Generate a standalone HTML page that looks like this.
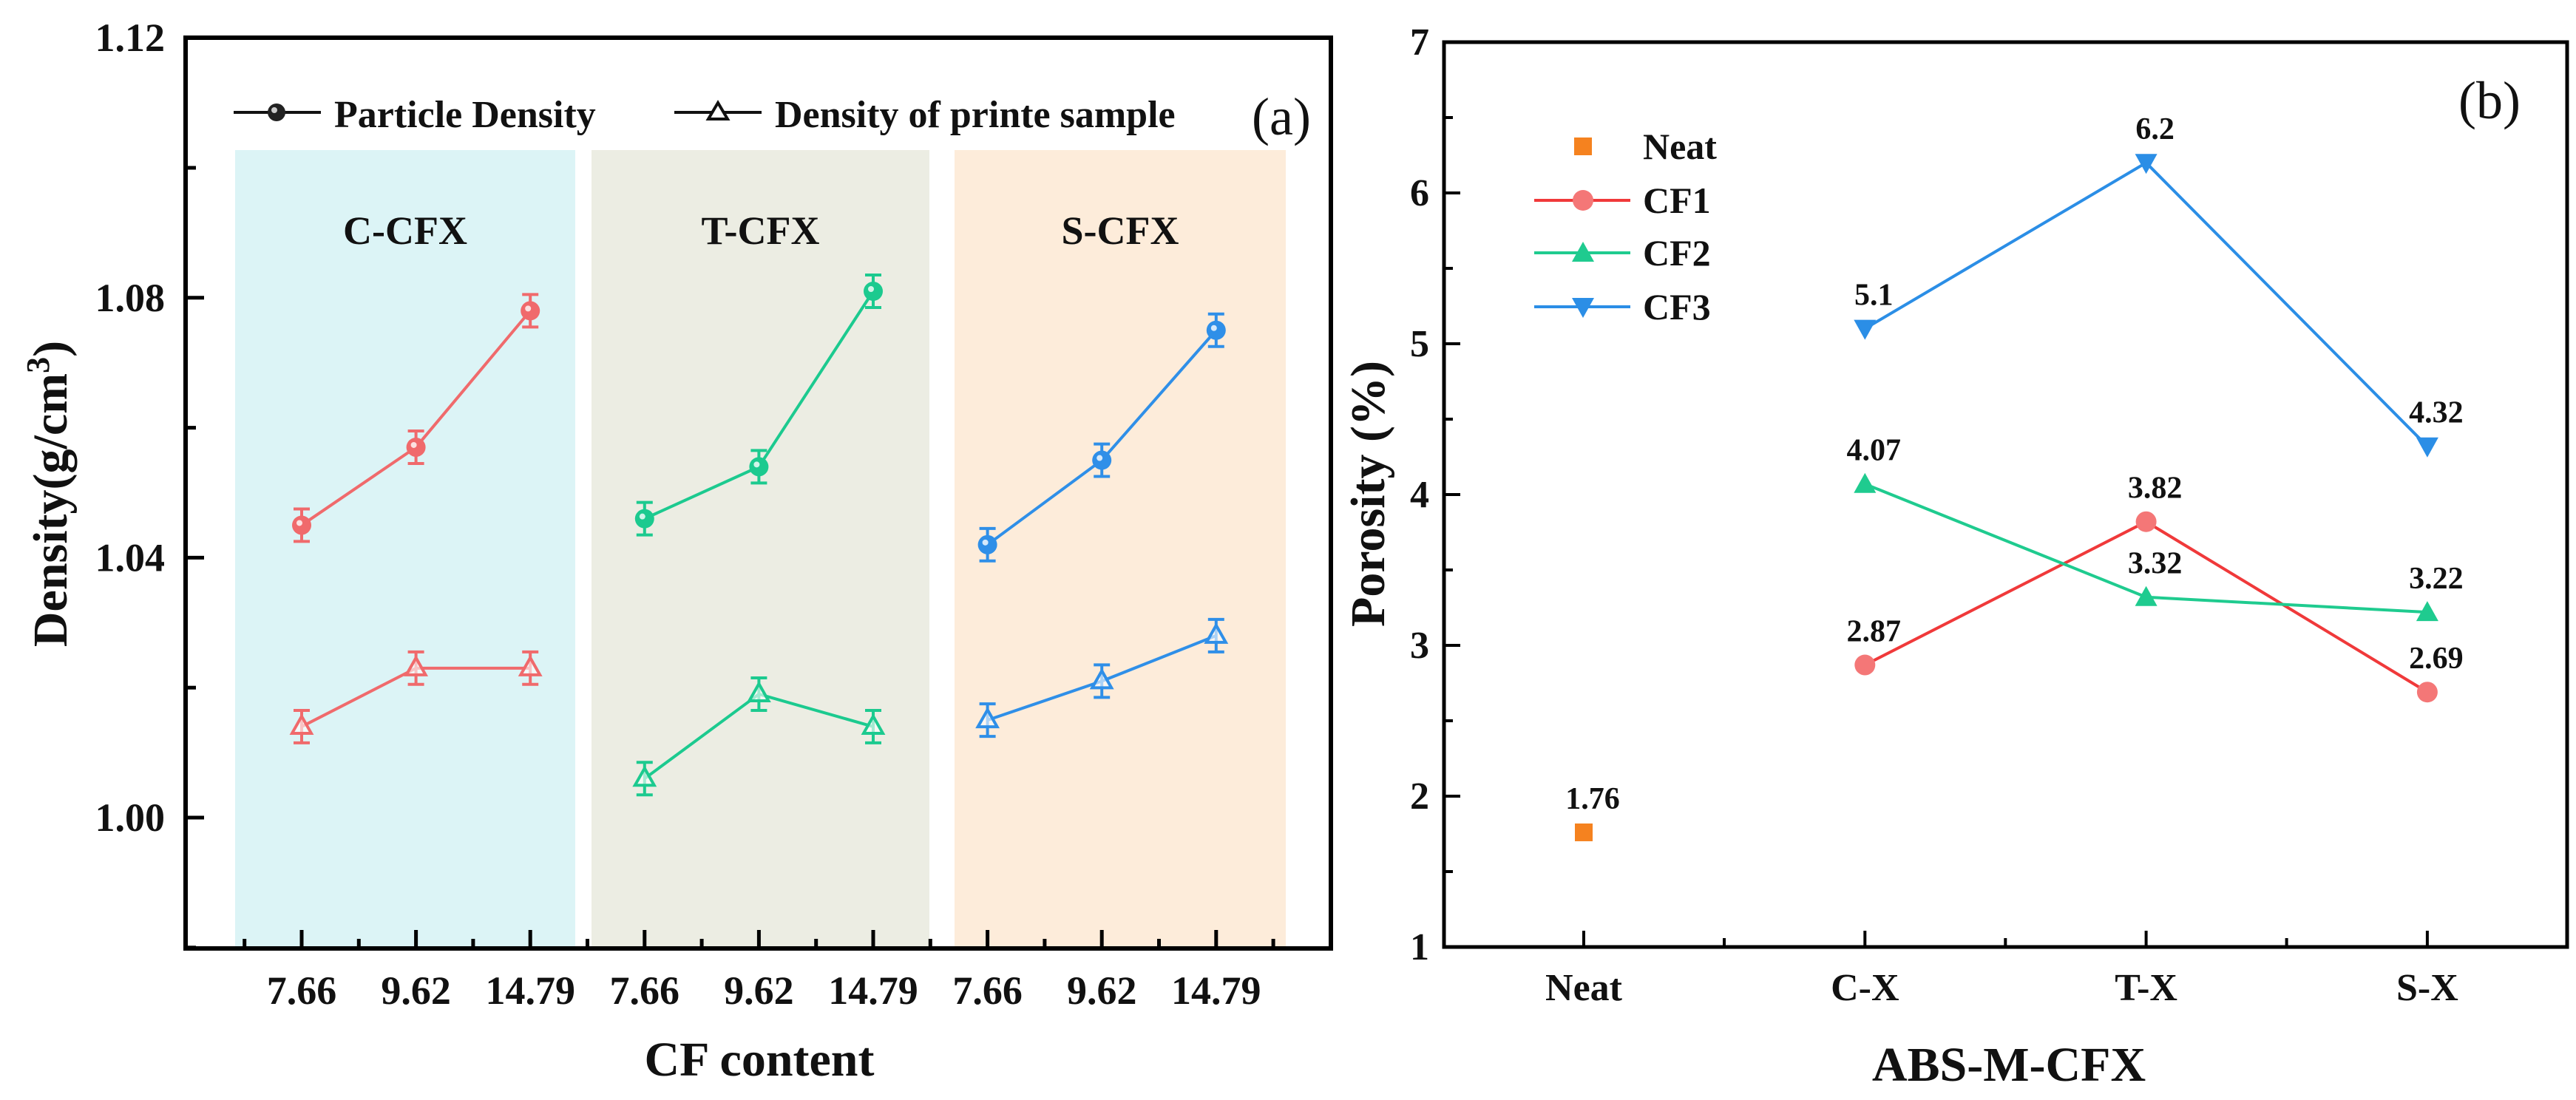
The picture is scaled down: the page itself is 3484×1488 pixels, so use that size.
<!DOCTYPE html>
<html><head><meta charset="utf-8"><style>
html,body{margin:0;padding:0;background:#fff}
svg{display:block}
text{font-family:"Liberation Serif",serif;font-weight:bold;fill:#111}
text.plain{font-weight:normal}
</style></head><body>
<svg id="chart" width="3484" height="1488" viewBox="0 0 3484 1488" xmlns="http://www.w3.org/2000/svg">
<g id="pa"></g>
<g id="pb"></g>
</svg>
<script>
// ---- Panel (a) data ----
const aGroups = ["C-CFX","T-CFX","S-CFX"];
const aContents = ["7.66","9.62","14.79"];
const aParticle = [[1.045,1.057,1.078],[1.046,1.054,1.081],[1.042,1.055,1.075]];
const aPrinted = [[1.014,1.023,1.023],[1.006,1.019,1.014],[1.015,1.021,1.028]];
const aErr = 0.0025;
const aYTicks = [1.00,1.04,1.08,1.12];
// ---- Panel (b) data ----
const bCats = ["Neat","C-X","T-X","S-X"];
const bNeat = [1.76];
const bCF1 = [2.87,3.82,2.69];
const bCF2 = [4.07,3.32,3.22];
const bCF3 = [5.1,6.2,4.32];
const bNeatLabels = ["1.76"];
const bCF1Labels = ["2.87","3.82","2.69"];
const bCF2Labels = ["4.07","3.32","3.22"];
const bCF3Labels = ["5.1","6.2","4.32"];
const bYTicks = [1,2,3,4,5,6,7];

const NS="http://www.w3.org/2000/svg";
function mk(parent,tag,attrs,txt){const e=document.createElementNS(NS,tag);for(const k in attrs)e.setAttribute(k,attrs[k]);if(txt!==undefined)e.textContent=txt;parent.appendChild(e);return e;}

// ===== Panel A =====
const pa=document.getElementById('pa');
const AL=251,AR=1800,AT=51,AB=1283;
const ay=v=>1106+(1.00-v)*8790;
const ax=i=>408+154.6*i;
const bandCols=["#dcf4f6","#ecede3","#fdecda"];
const bandX=[[318,778],[800,1257],[1291,1739]];
const serCols=["#f06a6c","#1cca8f","#2f8fe8"];
for(let g=0;g<3;g++){
  const b=mk(pa,'rect',{x:bandX[g][0],y:203,width:bandX[g][1]-bandX[g][0],height:AB-203,fill:bandCols[g]});
  
  
  const t=mk(pa,'text',{x:(bandX[g][0]+bandX[g][1])/2,y:330,'font-size':54,'text-anchor':'middle'},aGroups[g]);
  
  
}
for(let g=0;g<3;g++){
  [aParticle,aPrinted].forEach((arr,si)=>{
    const pts=arr[g].map((v,i)=>[ax(g*3+i),ay(v)]);
    const l=mk(pa,'polyline',{points:pts.map(p=>p.join(',')).join(' '),fill:'none',stroke:serCols[g],'stroke-width':4});
    
    
    arr[g].forEach((v,i)=>{
      const x=ax(g*3+i),y=ay(v),e1=ay(v+aErr),e2=ay(v-aErr);
      const eb=mk(pa,'path',{d:`M${x},${e1}V${e2}M${x-11},${e1}H${x+11}M${x-11},${e2}H${x+11}`,stroke:serCols[g],'stroke-width':4,fill:'none'});
      
      
      let m;
      if(si===0){m=mk(pa,'circle',{cx:x,cy:y,r:13,fill:serCols[g]});mk(pa,'circle',{cx:x-3,cy:y-3,r:4,fill:'#fff',opacity:0.8});}
      else{m=mk(pa,'path',{d:`M${x},${y-14}L${x+13},${y+9}L${x-13},${y+9}Z`,fill:'#fff','fill-opacity':0.6,stroke:serCols[g],'stroke-width':4});}
      
      
    });
  });
}
const fa=mk(pa,'rect',{x:AL,y:AT,width:AR-AL,height:AB-AT,fill:'none',stroke:'#000','stroke-width':6});


aYTicks.forEach(v=>{
  mk(pa,'line',{x1:AL,x2:AL+25,y1:ay(v),y2:ay(v),stroke:'#000','stroke-width':5});
  const t=mk(pa,'text',{x:AL-28,y:ay(v)+18,'font-size':54,'text-anchor':'end'},v.toFixed(2));
  
  
});
[1.10,1.06,1.02,0.98].forEach(v=>mk(pa,'line',{x1:AL,x2:AL+14,y1:ay(v),y2:ay(v),stroke:'#000','stroke-width':5}));
for(let i=0;i<9;i++){
  mk(pa,'line',{x1:ax(i),x2:ax(i),y1:AB,y2:AB-25,stroke:'#000','stroke-width':5});
  mk(pa,'line',{x1:ax(i)-77.3,x2:ax(i)-77.3,y1:AB,y2:AB-13,stroke:'#000','stroke-width':5});
  const t=mk(pa,'text',{x:ax(i),y:1358,'font-size':54,'text-anchor':'middle'},aContents[i%3]);
  
  
}
mk(pa,'line',{x1:ax(8)+77.3,x2:ax(8)+77.3,y1:AB,y2:AB-13,stroke:'#000','stroke-width':5});
const xta=mk(pa,'text',{x:1027,y:1455,'font-size':66,'text-anchor':'middle'},'CF content');


const yta=mk(pa,'text',{x:0,y:0,'font-size':66,'text-anchor':'middle',transform:'translate(90,668) rotate(-90)'});


yta.innerHTML='Density(g/cm<tspan dy="-24" font-size="44">3</tspan><tspan dy="24">)</tspan>';
const lg=mk(pa,'g',{});


mk(lg,'line',{x1:316,x2:434,y1:152,y2:152,stroke:'#111','stroke-width':4});
mk(lg,'circle',{cx:374,cy:152,r:12,fill:'#222'});mk(lg,'circle',{cx:371,cy:149,r:4,fill:'#ccc'});
mk(lg,'text',{x:452,y:172,'font-size':52},'Particle Density');
mk(lg,'line',{x1:912,x2:1030,y1:152,y2:152,stroke:'#111','stroke-width':4});
mk(lg,'path',{d:'M971,139L984,161L958,161Z',fill:'#fff',stroke:'#111','stroke-width':4});
mk(lg,'text',{x:1048,y:172,'font-size':52},'Density of printe sample');
const pla=mk(pa,'text',{x:1733,y:182,'font-size':72,'text-anchor':'middle','class':'plain'},'(a)');



// ===== Panel B =====
const pb=document.getElementById('pb');
const BL=1953,BR=3472,BT=57,BB=1281;
const by=v=>BB-(v-1)*204;
const bx=i=>2142+380.3*i;
const cRed="#f0393a",cRedM="#f47777",cGreen="#1fcb8f",cBlue="#2b8ee6",cOrange="#f5821f";
function series(vals,labels,off,col,mcol,shape,name){
  const pts=vals.map((v,i)=>[bx(i+off),by(v)]);
  if(pts.length>1){const l=mk(pb,'polyline',{points:pts.map(p=>p.join(',')).join(' '),fill:'none',stroke:col,'stroke-width':4});
    
    }
  pts.forEach(([x,y],i)=>{
    let m;
    if(shape==='sq')m=mk(pb,'rect',{x:x-12,y:y-12,width:24,height:24,fill:mcol});
    else if(shape==='c')m=mk(pb,'circle',{cx:x,cy:y,r:14,fill:mcol});
    else if(shape==='up')m=mk(pb,'path',{d:`M${x},${y-15}L${x+15},${y+12}L${x-15},${y+12}Z`,fill:mcol});
    else m=mk(pb,'path',{d:`M${x},${y+15}L${x+15},${y-12}L${x-15},${y-12}Z`,fill:mcol});
    
    
    const t=mk(pb,'text',{x:x+12,y:y-32,'font-size':42,'text-anchor':'middle'},labels[i]);
    
    
  });
}
series(bCF1,bCF1Labels,1,cRed,cRedM,'c','cf1');
series(bCF2,bCF2Labels,1,cGreen,cGreen,'up','cf2');
series(bCF3,bCF3Labels,1,cBlue,cBlue,'down','cf3');
series(bNeat,bNeatLabels,0,cOrange,cOrange,'sq','neat');
const fb=mk(pb,'rect',{x:BL,y:BT,width:BR-BL,height:BB-BT,fill:'none',stroke:'#000','stroke-width':5});


bYTicks.forEach(v=>{
  mk(pb,'line',{x1:BL,x2:BL+22,y1:by(v),y2:by(v),stroke:'#000','stroke-width':4});
  if(v<7)mk(pb,'line',{x1:BL,x2:BL+12,y1:by(v+0.5),y2:by(v+0.5),stroke:'#000','stroke-width':4});
  const t=mk(pb,'text',{x:BL-20,y:by(v)+17,'font-size':52,'text-anchor':'end'},String(v));
  
  
});
bCats.forEach((c,i)=>{
  mk(pb,'line',{x1:bx(i),x2:bx(i),y1:BB,y2:BB-22,stroke:'#000','stroke-width':4});
  if(i<3)mk(pb,'line',{x1:bx(i)+190,x2:bx(i)+190,y1:BB,y2:BB-12,stroke:'#000','stroke-width':4});
  const t=mk(pb,'text',{x:bx(i),y:1353,'font-size':52,'text-anchor':'middle'},c);
  
  
});
const xtb=mk(pb,'text',{x:2717,y:1462,'font-size':66,'text-anchor':'middle'},'ABS-M-CFX');


const ytb=mk(pb,'text',{x:0,y:0,'font-size':66,'text-anchor':'middle',transform:'translate(1872,668) rotate(-90)'},'Porosity (%)');


const plb=mk(pb,'text',{x:3367,y:160,'font-size':72,'text-anchor':'middle','class':'plain'},'(b)');


const lb=mk(pb,'g',{});


const legItems=[["Neat",198,cOrange,'sq'],["CF1",271,cRed,'c'],["CF2",342,cGreen,'up'],["CF3",415,cBlue,'down']];
legItems.forEach(([n,y,c,s])=>{
  const x=2141;
  if(s!=='sq')mk(lb,'line',{x1:2075,x2:2205,y1:y,y2:y,stroke:c,'stroke-width':4});
  if(s==='sq')mk(lb,'rect',{x:x-12,y:y-12,width:24,height:24,fill:c});
  else if(s==='c')mk(lb,'circle',{cx:x,cy:y,r:14,fill:cRedM});
  else if(s==='up')mk(lb,'path',{d:`M${x},${y-15}L${x+15},${y+12}L${x-15},${y+12}Z`,fill:c});
  else mk(lb,'path',{d:`M${x},${y+15}L${x+15},${y-12}L${x-15},${y-12}Z`,fill:c});
  mk(lb,'text',{x:2222,y:y+17,'font-size':50},n);
});
</script>
</body></html>
